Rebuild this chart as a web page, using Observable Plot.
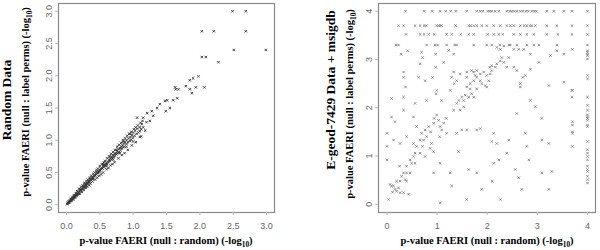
<!DOCTYPE html>
<html><head><meta charset="utf-8">
<script src="https://cdn.jsdelivr.net/npm/d3@7"></script>
<script src="https://cdn.jsdelivr.net/npm/@observablehq/plot@0.6"></script>
<style>
html,body{margin:0;padding:0;background:#fff;}
#wrap{display:flex;width:600px;height:250px;}
</style></head><body><div id="wrap"></div>
<script>
// Left panel: Random Data (x = null:random, y = null:label perms), -log10 p
const leftX = [0.01,0.02,0.02,0.03,0.04,0.05,0.05,0.06,0.07,0.08,0.08,0.09,0.1,0.11,0.12,0.12,0.13,0.14,0.15,0.15,0.16,0.17,0.18,0.18,0.19,0.2,0.21,0.21,0.22,0.23,0.24,0.25,0.25,0.26,0.27,0.28,0.28,0.29,0.3,0.31,0.32,0.33,0.33,0.34,0.35,0.36,0.37,0.38,0.38,0.39,0.4,0.41,0.42,0.43,0.44,0.45,0.46,0.47,0.48,0.49,0.5,0.5,0.51,0.52,0.53,0.54,0.55,0.56,0.57,0.58,0.59,0.6,0.61,0.62,0.63,0.64,0.65,0.66,0.67,0.68,0.69,0.7,0.71,0.72,0.73,0.74,0.75,0.76,0.77,0.78,0.79,0.8,0.81,0.82,0.83,0.84,0.85,0.86,0.87,0.88,0.9,0.9,0.92,0.93,0.95,0.96,0.97,0.98,1.0,1.0,1.02,1.03,1.05,1.06,1.08,1.1,1.1,1.12,1.13,1.15,1.06,1.15,1.21,1.28,1.36,1.4,1.48,1.51,1.6,1.66,1.64,1.49,1.55,1.25,1.3,1.2,1.18,0.95,0.85,0.75,0.65,0.55,0.45,0.35,0.28,0.2,0.9,0.8,0.7,1.0,1.1,0.6,0.4,0.3,
  0.03,0.06,0.09,0.11,0.14,0.16,0.19,0.22,0.24,0.27,0.3,0.32,0.35,0.37,0.4,0.42,0.45,0.47,0.5,0.53,0.56,0.58,0.61,0.64,0.67,0.7,0.73,0.76,0.79,0.82,0.85,0.88,0.91,0.94,0.97,1.01,1.04,1.07,1.11,1.14,
  0.04,0.07,0.1,0.13,0.17,0.2,0.23,0.26,0.29,0.31,0.34,0.36,0.39,0.43,0.46,0.49,0.52,0.55,0.6,0.63,0.66,0.69,0.72,0.78,0.83,0.87,0.92,0.98,1.04,1.12,
  2.49,2.69,2.03,2.21,2.69,2.51,2.99,2.03,2.09,2.28,1.98,1.9,1.85,1.79,1.63,1.68,1.94,2.07,1.85,1.88];
const leftY = [0.01,0.02,0.03,0.03,0.04,0.05,0.06,0.06,0.07,0.08,0.09,0.1,0.1,0.12,0.12,0.14,0.13,0.15,0.16,0.14,0.17,0.18,0.19,0.17,0.2,0.21,0.22,0.24,0.23,0.25,0.24,0.27,0.29,0.27,0.29,0.3,0.27,0.31,0.32,0.34,0.33,0.36,0.34,0.37,0.36,0.39,0.38,0.41,0.4,0.42,0.43,0.45,0.44,0.46,0.48,0.47,0.5,0.49,0.52,0.51,0.54,0.52,0.56,0.55,0.57,0.56,0.6,0.58,0.62,0.6,0.63,0.65,0.63,0.67,0.66,0.7,0.68,0.72,0.7,0.74,0.72,0.77,0.74,0.79,0.76,0.8,0.78,0.83,0.8,0.86,0.82,0.88,0.84,0.9,0.87,0.92,0.89,0.95,0.9,0.97,0.94,1.0,0.97,1.03,0.99,1.05,1.01,1.08,1.04,1.12,1.07,1.15,1.1,1.18,1.12,1.2,1.14,1.17,1.25,1.2,1.35,1.35,1.42,1.45,1.5,1.56,1.61,1.62,1.62,1.65,1.79,1.45,1.5,1.3,1.38,1.28,1.15,1.1,0.98,0.85,0.75,0.63,0.51,0.4,0.33,0.23,0.9,0.8,0.7,0.98,1.05,0.6,0.4,0.3,
  0.05,0.09,0.12,0.15,0.18,0.21,0.25,0.28,0.3,0.34,0.37,0.39,0.42,0.45,0.48,0.5,0.54,0.56,0.6,0.63,0.66,0.68,0.72,0.75,0.79,0.82,0.85,0.9,0.93,0.96,1.0,1.03,1.07,1.1,1.13,1.17,1.2,1.23,1.27,1.3,
  0.03,0.06,0.08,0.11,0.15,0.17,0.2,0.23,0.26,0.28,0.3,0.33,0.36,0.39,0.42,0.45,0.47,0.5,0.55,0.57,0.61,0.63,0.66,0.72,0.77,0.8,0.85,0.92,0.97,1.06,
  3.0,3.0,2.69,2.69,2.69,2.4,2.4,2.29,2.29,2.21,1.99,1.96,1.93,1.84,1.82,1.79,1.82,1.82,1.79,1.73];

// Right panel: E-geod-7429 Data + msigdb
const rightX = [
  0.37,0.74,0.9,1.06,1.17,1.27,1.37,1.59,1.79,1.86,1.91,2.01,2.05,2.09,2.16,2.23,2.39,2.45,2.49,2.54,2.59,2.66,2.71,2.77,2.82,2.89,2.94,2.98,3.19,3.33,3.53,3.69,4.0,
  0.23,0.33,0.56,0.66,0.74,0.78,0.99,1.03,1.06,1.09,1.37,1.63,1.67,1.73,1.79,1.89,1.99,2.13,2.26,2.39,2.46,2.53,2.66,2.74,2.79,2.85,2.89,2.96,3.19,3.39,3.69,4.0,
  0.38,0.66,0.74,0.83,0.94,1.19,1.29,1.47,1.63,1.73,2.01,2.13,2.23,2.31,2.53,2.66,2.79,2.93,3.19,3.41,3.69,4.0,
  0.18,0.23,0.79,0.96,1.01,1.19,1.35,1.39,1.73,1.99,2.09,2.25,2.43,2.46,2.59,2.79,2.93,3.03,3.39,4.0,
  0.28,0.41,0.33,0.33,0.37,0.33,0.09,0.69,0.71,0.66,0.63,0.76,0.91,0.97,0.97,1.13,1.23,1.33,1.29,1.34,1.26,0.99,0.98,1.09,0.79,0.56,0.33,0.09,0.16,0.0,0.13,0.0,0.0,0.03,
  0.13,0.16,0.19,0.23,0.11,0.26,0.29,0.33,0.19,0.25,0.39,0.46,0.53,0.56,0.49,0.59,0.66,0.73,0.69,0.76,0.83,0.79,0.87,0.93,0.94,0.99,1.03,1.06,1.09,1.13,1.18,1.19,1.05,0.89,0.66,0.76,0.86,0.93,0.56,0.39,0.36,0.46,
  1.33,1.39,1.43,1.49,1.53,1.56,1.63,1.69,1.73,1.53,1.46,1.59,1.66,1.73,1.79,1.86,1.89,1.96,1.99,2.03,2.06,2.09,2.16,2.19,2.26,2.33,2.39,2.29,1.86,1.79,1.93,1.69,1.73,1.59,1.46,1.39,1.33,1.59,1.66,1.79,1.76,1.99,2.05,2.09,2.19,2.26,2.33,2.43,2.53,2.59,2.66,2.71,2.76,2.86,2.66,2.53,2.63,2.73,2.86,3.03,3.26,3.53,3.39,3.23,3.53,3.69,3.69,
  1.49,1.39,1.43,1.26,1.29,1.06,0.93,1.06,1.59,1.79,1.86,1.63,1.79,1.89,1.59,2.13,2.09,2.19,2.23,2.13,2.1,2.26,2.43,2.39,2.59,2.56,2.63,2.69,2.79,2.83,2.96,2.86,3.09,3.09,3.09,3.23,3.23,3.29,2.76,
  0.06,0.09,0.26,0.39,0.33,0.43,0.71,0.53,0.26,0.39,0.59,0.53,
  3.7,3.7,3.7,3.7,3.7,3.7,3.7,
  4.0,4.0,4.0,4.0,4.0,4.0,4.0,4.0,4.0,4.0,4.0,4.0,4.0,4.0,4.0,4.0,4.0,4.0,4.0,4.0,4.0,4.0,4.0,4.0,4.0,4.0,4.0];
const rightY = [
  4.0,4.0,4.0,4.0,4.0,4.0,4.0,4.0,4.0,4.0,4.0,4.0,4.0,4.0,4.0,4.0,4.0,4.0,4.0,4.0,4.0,4.0,4.0,4.0,4.0,4.0,4.0,4.0,4.0,4.0,4.0,4.0,4.0,
  3.7,3.7,3.7,3.7,3.7,3.7,3.7,3.7,3.7,3.7,3.7,3.7,3.7,3.7,3.7,3.7,3.7,3.7,3.7,3.7,3.7,3.7,3.7,3.7,3.7,3.7,3.7,3.7,3.7,3.7,3.7,3.7,
  3.52,3.52,3.52,3.52,3.52,3.52,3.52,3.52,3.52,3.52,3.52,3.52,3.52,3.52,3.52,3.52,3.52,3.52,3.52,3.52,3.52,3.52,
  3.3,3.3,3.3,3.3,3.3,3.3,3.3,3.3,3.3,3.3,3.3,3.3,3.3,3.3,3.3,3.3,3.3,3.3,3.3,3.3,
  3.11,3.18,2.74,2.63,2.43,2.22,2.19,3.15,3.04,2.91,2.63,2.56,2.63,3.11,2.84,2.94,3.19,3.11,2.63,2.5,2.36,2.36,2.29,2.15,2.15,2.09,1.95,1.81,1.71,1.47,1.33,1.2,0.92,0.1,
  0.38,0.31,0.27,0.34,0.25,0.48,0.58,0.65,0.48,0.79,0.79,0.92,0.99,1.06,0.85,1.2,1.33,1.33,1.47,1.54,1.61,1.4,1.5,1.68,1.78,1.85,1.74,1.61,1.54,1.68,1.78,1.47,1.4,1.26,1.06,0.99,1.16,1.09,0.85,0.65,0.51,0.65,
  1.95,2.09,2.15,2.22,2.15,2.26,2.22,2.29,2.22,2.02,1.95,2.43,2.5,2.56,2.63,2.56,2.5,2.46,2.43,2.56,2.7,2.77,2.84,2.91,2.97,2.94,2.84,3.04,2.7,2.77,2.74,2.77,2.74,2.74,2.7,2.56,2.74,2.63,2.39,2.39,2.67,2.67,2.84,2.87,3.25,3.21,3.28,3.04,2.84,2.77,2.5,2.63,2.67,2.8,2.43,3.21,3.21,3.21,3.11,2.94,3.08,3.11,3.18,2.46,2.53,2.36,2.22,
  1.54,1.47,1.09,0.65,0.38,0.85,0.65,0.03,1.54,1.54,1.57,0.72,0.65,0.31,0.1,1.47,1.3,1.26,0.92,0.85,0.48,0.1,1.33,1.06,1.88,0.72,0.55,0.31,1.2,0.92,2.02,2.15,1.78,1.33,0.65,1.26,0.31,0.68,1.47,
  0.41,0.38,0.24,0.48,0.24,0.21,1.2,1.26,1.26,1.4,1.61,1.81,
  1.71,1.64,1.5,1.47,1.2,3.21,2.36,
  3.18,3.15,3.11,3.08,3.01,2.67,2.6,2.22,2.05,1.95,1.85,1.81,1.78,1.74,1.64,1.61,1.3,1.13,1.06,0.99,0.92,0.79,0.72,0.68,0.58,0.51,0.44];

const leftTicks = [0, 0.5, 1, 1.5, 2, 2.5, 3];
const rightTicks = [0, 1, 2, 3, 4];

const leftData = leftX.map((x, i) => ({x, y: leftY[i]}));
const rightData = rightX.map((x, i) => ({x, y: rightY[i]}));

const gray = "#8a8a8a";
const tickFont = "Liberation Sans, Arial, sans-serif";

function panel(data, domain, ticks, fmt, ml, mr, dotColor, sw) {
  return Plot.plot({
    width: 300, height: 250,
    marginLeft: ml, marginRight: mr, marginTop: 3, marginBottom: 38,
    style: {fontFamily: tickFont, fontSize: "9px", color: "#666", background: "#fff"},
    x: {domain, ticks, tickFormat: fmt, label: null},
    y: {domain, ticks, tickFormat: fmt, label: null},
    marks: [
      Plot.frame({stroke: gray, strokeWidth: 1.2}),
      Plot.axisX({ticks, tickFormat: fmt, tickSize: 3, tickPadding: 7, stroke: "#bbb", fill: "#666", label: null}),
      Plot.axisY({ticks, tickFormat: fmt, tickSize: 3, tickPadding: 4, tickRotate: -90, stroke: "#bbb", fill: "#666", label: null}),
      Plot.dot(data, {x: "x", y: "y", symbol: "times", r: 1.2, stroke: dotColor, strokeWidth: sw})
    ]
  });
}

function addLabel(svg, x, y, parts, size, rotate) {
  const t = d3.select(svg).append("text")
    .attr("transform", `translate(${x},${y})` + (rotate ? " rotate(-90)" : ""))
    .attr("text-anchor", "middle")
    .attr("font-family", "Liberation Serif, Times New Roman, serif")
    .attr("font-weight", "bold")
    .attr("font-size", size)
    .attr("fill", "#000");
  for (const p of parts) {
    const s = t.append("tspan").text(p.t);
    if (p.sub) s.attr("font-size", size * 0.7).attr("dy", size * 0.3);
    else if (p.after) s.attr("dy", -size * 0.3);
  }
}

const xTitle = [{t: "p-value FAERI (null : random) (-log"}, {t: "10", sub: true}, {t: ")", after: true}];
const yTitle = [{t: "p-value FAERI (null : label perms) (-log"}, {t: "10", sub: true}, {t: ")", after: true}];

const wrap = document.getElementById("wrap");

const left = panel(leftData, [-0.12, 3.12], leftTicks, d3.format(".1f"), 58, 26, "#333", 0.9);
addLabel(left, 166, 244, xTitle, 10.5, false);
addLabel(left, 29, 102, yTitle, 10.5, true);
addLabel(left, 11, 100, [{t: "Random Data"}], 13.5, true);
wrap.appendChild(left);

const right = panel(rightData, [-0.17, 4.16], rightTicks, d3.format("d"), 78, 5, "#777", 0.8);
addLabel(right, 187, 244, xTitle, 10.5, false);
addLabel(right, 53, 104, yTitle, 10.5, true);
addLabel(right, 35, 90, [{t: "E-geod-7429 Data + msigdb"}], 13.5, true);
wrap.appendChild(right);
</script></body></html>
